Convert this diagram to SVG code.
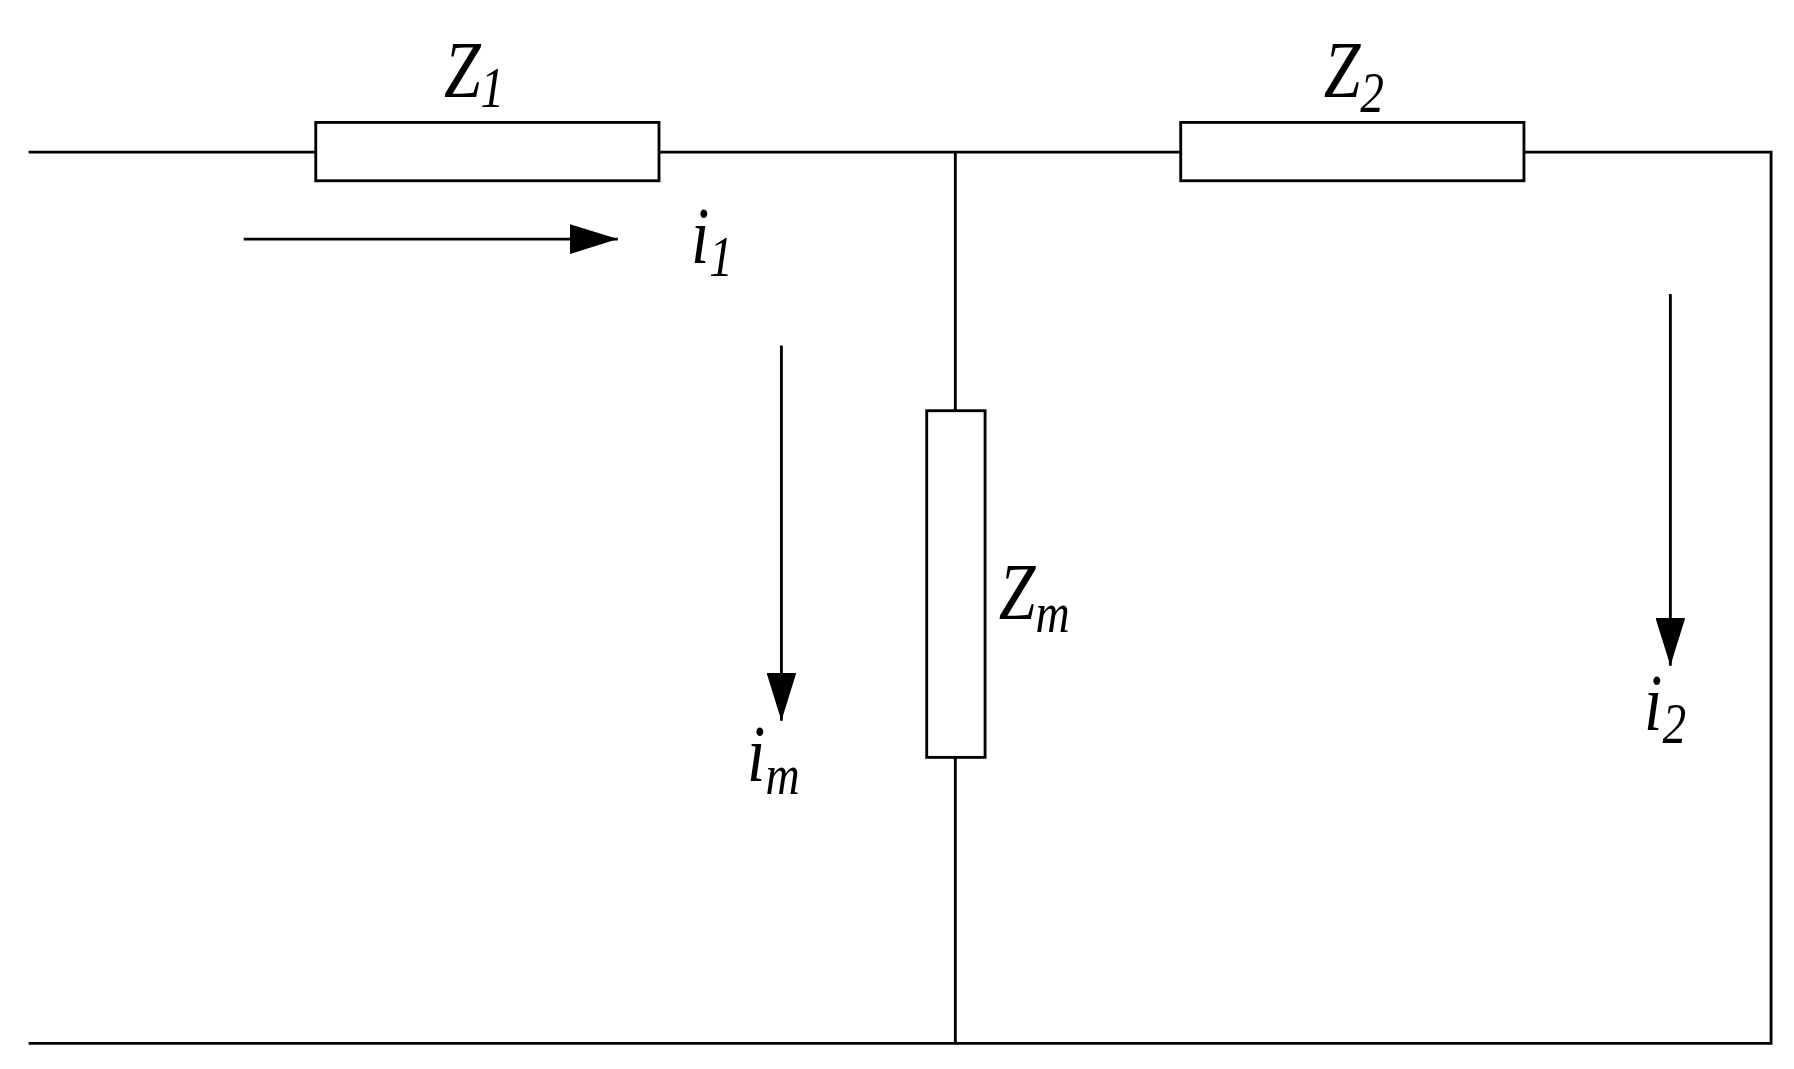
<svg xmlns="http://www.w3.org/2000/svg" width="1794" height="1069" viewBox="0 0 1794 1069">
<style>
.w{stroke:#000;stroke-width:2.5;fill:none}
.r{stroke:#000;stroke-width:2.5;fill:#fff}
.t{font-family:"Liberation Serif","Times New Roman",serif;font-style:italic;font-size:64px;fill:#000}
.s{font-size:46px}
</style>
<defs>
<marker id="a" markerWidth="42" markerHeight="26" refX="42" refY="13" orient="auto" markerUnits="userSpaceOnUse">
<path d="M0,0 L42,13 L0,26 Z" fill="#000"/>
</marker>
</defs>
<rect width="1794" height="1069" fill="#fff"/>
<g transform="scale(1.1441)">
<g id="connectors">
<path class="w" d="M25,133 H1548 V912 H25"/>
<path class="w" d="M835,133 V912"/>
<path class="w" d="M213,209 H540" marker-end="url(#a)"/>
<path class="w" d="M683,302 V630" marker-end="url(#a)"/>
<path class="w" d="M1460,257 V582" marker-end="url(#a)"/>
</g>
<g id="Z1"><text class="t" transform="translate(388,85) scale(0.9,1.1)">Z<tspan class="s" dy="8">1</tspan></text><rect class="r" x="276" y="107" width="300" height="51"/></g>
<g id="Z2"><text class="t" transform="translate(1157,85) scale(0.9,1.1)">Z<tspan class="s" dy="12">2</tspan></text><rect class="r" x="1032" y="107" width="300" height="51"/></g>
<g id="Zm"><rect class="r" x="810" y="359" width="51" height="303"/><text class="t" transform="translate(873,541) scale(0.9,1.1)">Z<tspan class="s" dy="10">m</tspan></text></g>
<g id="i1"><text class="t" transform="translate(604,230) scale(0.9,1.1)">i<tspan class="s" dy="10">1</tspan></text></g>
<g id="im"><text class="t" transform="translate(653,683) scale(0.9,1.1)">i<tspan class="s" dy="10">m</tspan></text></g>
<g id="i2"><text class="t" transform="translate(1437,638) scale(0.9,1.1)">i<tspan class="s" dy="10">2</tspan></text></g>
</g>
</svg>
